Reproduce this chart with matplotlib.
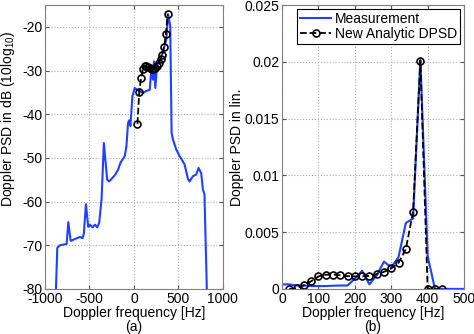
import numpy as np
import matplotlib
matplotlib.use("Agg")
import matplotlib.pyplot as plt
from matplotlib.ticker import FixedLocator, FixedFormatter

plt.rcParams['font.family'] = ['Liberation Sans', 'DejaVu Sans']
plt.rcParams['axes.unicode_minus'] = False
plt.rcParams['mathtext.fontset'] = 'custom'
plt.rcParams['mathtext.rm'] = 'Liberation Sans'

# ---- (a) measurement in dB ----
meas_db_f = [-877, -862, -832, -757, -738, -712, -607, -578, -563, -540, -514, -495,
             -466, -439, -413, -391, -364, -338, -301, -278, -252, -215, -178, -151,
             -129, -103, -84, -66, -54, -39, -17, 9, 35, 58, 103, 140, 178, 196, 215,
             226, 241, 260, 290, 327, 364, 385, 409, 424, 439, 477, 514, 533, 570,
             608, 626, 664, 701, 727, 757, 776, 794, 821]
meas_db = [-80, -70.6, -70, -69.7, -64.7, -69, -68.1, -68.4, -67.3, -60.6, -65.8, -65.3,
           -65.9, -65.3, -65.9, -64.9, -59.5, -46.6, -55, -55.4, -54.8, -54, -52.7, -51.1,
           -50.4, -49.6, -47.3, -42, -41.4, -42.7, -35.9, -34, -34.4, -34.7, -35.1, -34.7,
           -34.4, -29.8, -32.1, -27.9, -34, -28.8, -27.9, -25.6, -22.9, -17.2, -19.8,
           -44.3, -45.8, -48.1, -49.6, -50.2, -51.5, -54.8, -55.4, -54.2, -53.8, -52.3,
           -53.5, -57.2, -58.4, -80.5]

# ---- (b) measurement, linear ----
meas_lin_f = [0, 20, 40, 60, 80, 100, 120, 140, 160, 180, 200, 220, 240, 260, 280,
              300, 320, 340, 360, 380, 400, 420, 440, 460, 480, 500]
meas_lin = [0.0004, 0.0004, 0.0003, 0.0003, 0.00025, 0.00025, 0.00025, 0.00028,
            0.0003, 0.0003, 0.0009, 0.0016, 0.0004, 0.0012, 0.0024, 0.0019, 0.0028,
            0.0058, 0.0062, 0.0202, 0.0029, 0.0, 0.0, 0.0, 0.0, 0.0]

# ---- New analytic DPSD (linear) ----
ana_f = [20, 40, 60, 80, 100, 120, 140, 160, 180, 200, 220, 240, 260, 280, 300,
         320, 340, 360, 380, 400, 420, 440]
ana_lin = [0.0, 0.00006, 0.00032, 0.00067, 0.0011, 0.00125, 0.00126, 0.0012,
           0.00112, 0.0011, 0.0011, 0.00115, 0.0013, 0.0015, 0.0018, 0.0023,
           0.0035, 0.0068, 0.0201, 0.0, 0.0, 0.0]

blue = '#2040ff'
grid_kw = dict(color='#b0b0b0', linestyle=':', linewidth=0.8)

fig = plt.figure(figsize=(4.74, 3.34), dpi=100)
ax1 = fig.add_axes([0.095, 0.135, 0.375, 0.85])
ax2 = fig.add_axes([0.595, 0.135, 0.384, 0.85])

for ax in (ax1, ax2):
    ax.tick_params(direction='in', top=True, right=True, labelsize=10, length=3,
                   color='#555555', pad=2)
    for s in ax.spines.values():
        s.set_color('#808080')
        s.set_linewidth(0.8)
    ax.grid(True, **grid_kw)
    ax.set_axisbelow(True)

# (a)
ax1.plot(meas_db_f, meas_db, color=blue, lw=1.5)
ana_f_arr = np.array(ana_f, dtype=float)
ana_arr = np.array(ana_lin)
pos = ana_arr > 0
ana_db = 10 * np.log10(ana_arr[pos])
ax1.plot(ana_f_arr[pos], ana_db, color='k', ls='--', lw=1.3, marker='o',
         mfc='none', mec='k', ms=5, mew=1.2)
ax1.set_xlim(-1000, 1000)
ax1.set_ylim(-80, -15)
ax1.set_xticks([-1000, -500, 0, 500, 1000])
ax1.set_yticks([-80, -70, -60, -50, -40, -30, -20])
ax1.set_xlabel('Doppler frequency [Hz]', fontsize=10, labelpad=0)
ax1.set_ylabel('Doppler PSD in dB (10log$_{10}$)', fontsize=10)
ax1.yaxis.set_label_coords(-0.16, 0.6)
fig.text((0.095 + 0.47) / 2, 0.022, '(a)', ha='center', va='center', fontsize=10)

# (b)
ax2.plot(meas_lin_f, meas_lin, color=blue, lw=1.5, label='Measurement')
ax2.plot(ana_f, ana_lin, color='k', ls='--', lw=1.3, marker='o', mfc='none',
         mec='k', ms=5, mew=1.2, label='New Analytic DPSD')
ax2.set_xlim(0, 500)
ax2.set_ylim(0, 0.025)
ax2.set_xticks([0, 100, 200, 300, 400, 500])
ax2.yaxis.set_major_locator(FixedLocator([0, 0.005, 0.01, 0.015, 0.02, 0.025]))
ax2.yaxis.set_major_formatter(FixedFormatter(['0', '0.005', '0.01', '0.015', '0.02', '0.025']))
ax2.set_xlabel('Doppler frequency [Hz]', fontsize=10, labelpad=0)
ax2.set_ylabel('Doppler PSD in lin.', fontsize=10)
ax2.yaxis.set_label_coords(-0.21, 0.5)
fig.text((0.595 + 0.979) / 2, 0.022, '(b)', ha='center', va='center', fontsize=10)
leg = ax2.legend(loc='upper right', fontsize=10, frameon=True, fancybox=False,
                 edgecolor='k', framealpha=1, borderpad=0.2, labelspacing=0.1,
                 handlelength=2.2, handletextpad=0.3, borderaxespad=0.3)
leg.get_frame().set_linewidth(0.8)

fig.savefig('out.png', dpi=100)
